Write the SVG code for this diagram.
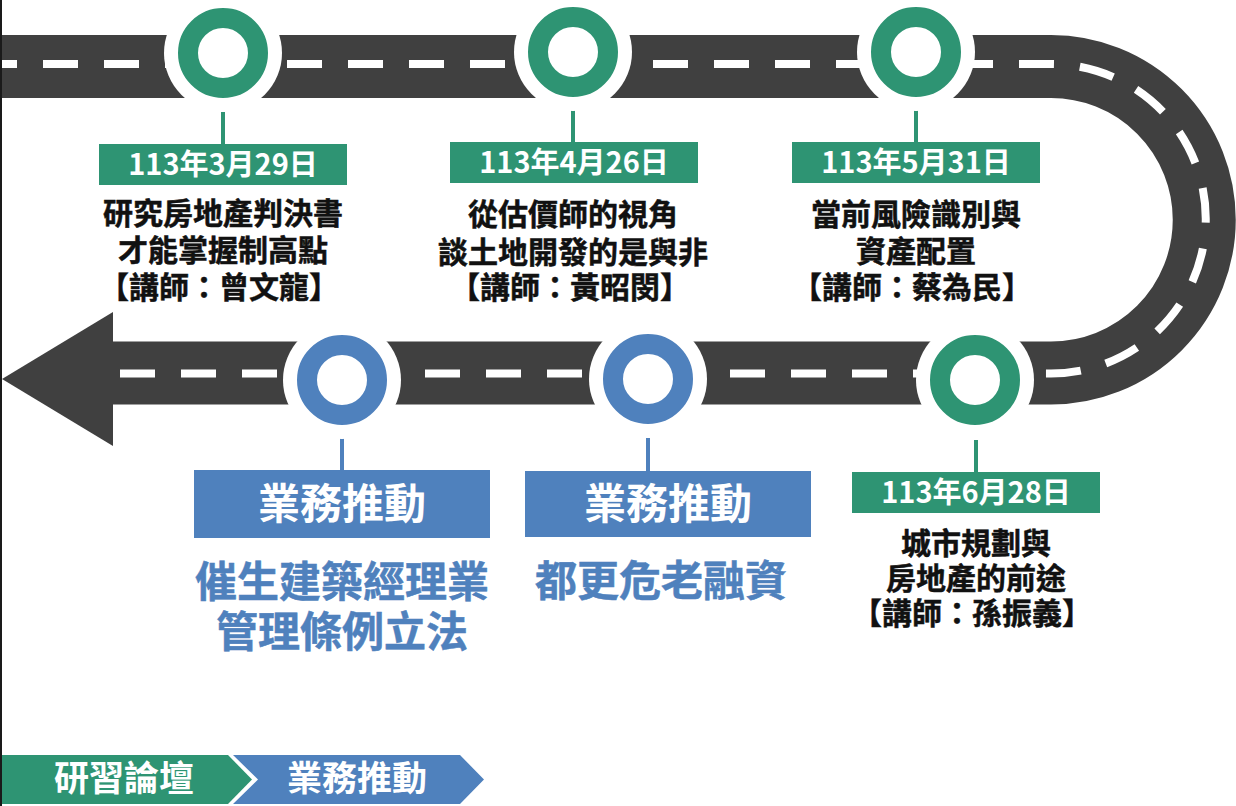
<svg xmlns="http://www.w3.org/2000/svg" width="1236" height="806" viewBox="0 0 1236 806">
<style>
.road{fill:none;stroke:#404040;stroke-width:63}
.dash{fill:none;stroke:#ffffff;stroke-width:8;stroke-dasharray:35 26}
.halo{fill:#ffffff}
.ringG{fill:none;stroke:#2E9473;stroke-width:20}
.ringB{fill:none;stroke:#4F81BD;stroke-width:20}
.lnG{stroke:#2E9473;stroke-width:4}
.lnB{stroke:#4F81BD;stroke-width:4}
.boxG{fill:#2E9473}
.boxB{fill:#4F81BD}
text{font-family:"Noto Sans CJK TC","Noto Sans CJK SC","Noto Sans",sans-serif;font-weight:bold;text-anchor:middle}
.date{font-size:29px;fill:#ffffff}
.body{font-size:30px;fill:#111111;stroke:#111111;stroke-width:0.5}
.tag{font-size:42px;fill:#ffffff}
.big{font-size:42px;fill:#4F81BD;stroke:#4F81BD;stroke-width:0.5}
.leg{font-size:35px;fill:#ffffff}
</style>
<rect x="0" y="0" width="1236" height="806" fill="#ffffff"/>
<g id="connectors">
<path class="road" d="M 0 66.5 H 1051 A 153.25 153.25 0 0 1 1051 373 H 110"/>
<polygon points="113,312 2,379 113,446" fill="#404040"/>
<path class="dash" d="M -18 64 H 1051 A 154.75 154.75 0 0 1 1051 373.5 H 1036"/>
<path class="dash" d="M 120 373.5 H 1034"/>
<line class="lnG" x1="223" y1="112" x2="223" y2="144"/>
<line class="lnG" x1="573" y1="110" x2="573" y2="142"/>
<line class="lnG" x1="916" y1="110" x2="916" y2="142"/>
<line class="lnG" x1="976" y1="440" x2="976" y2="472"/>
<line class="lnB" x1="342" y1="438" x2="342" y2="471"/>
<line class="lnB" x1="648" y1="438" x2="648" y2="471"/>
</g>
<g id="node1">
<circle class="halo" cx="223" cy="53" r="59"/>
<circle class="ringG" cx="223" cy="53" r="35"/>
<rect class="boxG" x="99" y="144" width="248" height="41"/>
<text class="date" x="223" y="175">113年3月29日</text>
<text class="body"><tspan x="223" y="224">研究房地產判決書</tspan><tspan x="223" y="261">才能掌握制高點</tspan><tspan x="219" y="298">【講師：曾文龍】</tspan></text>
</g>
<g id="node2">
<circle class="halo" cx="573" cy="52" r="59"/>
<circle class="ringG" cx="573" cy="52" r="35"/>
<rect class="boxG" x="450" y="142" width="248" height="41"/>
<text class="date" x="574" y="173">113年4月26日</text>
<text class="body"><tspan x="573" y="225">從估價師的視角</tspan><tspan x="573" y="263">談土地開發的是與非</tspan><tspan x="570" y="298">【講師：黃昭閔】</tspan></text>
</g>
<g id="node3">
<circle class="halo" cx="916" cy="52" r="59"/>
<circle class="ringG" cx="916" cy="52" r="35"/>
<rect class="boxG" x="792" y="142" width="248" height="41"/>
<text class="date" x="916" y="173">113年5月31日</text>
<text class="body"><tspan x="916" y="225">當前風險識別與</tspan><tspan x="916" y="262">資產配置</tspan><tspan x="912" y="298">【講師：蔡為民】</tspan></text>
</g>
<g id="node4">
<circle class="halo" cx="975" cy="380" r="59"/>
<circle class="ringG" cx="975" cy="380" r="35"/>
<rect class="boxG" x="852" y="472" width="248" height="41"/>
<text class="date" x="976" y="503">113年6月28日</text>
<text class="body"><tspan x="976" y="554">城市規劃與</tspan><tspan x="976" y="589">房地產的前途</tspan><tspan x="972" y="624">【講師：孫振義】</tspan></text>
</g>
<g id="node5">
<circle class="halo" cx="342" cy="380" r="59"/>
<circle class="ringB" cx="342" cy="380" r="35"/>
<rect class="boxB" x="194" y="470" width="296" height="68"/>
<text class="tag" x="342" y="519">業務推動</text>
<text class="big"><tspan x="342" y="597">催生建築經理業</tspan><tspan x="342" y="647">管理條例立法</tspan></text>
</g>
<g id="node6">
<circle class="halo" cx="648" cy="379" r="59"/>
<circle class="ringB" cx="648" cy="379" r="35"/>
<rect class="boxB" x="525" y="471" width="286" height="66"/>
<text class="tag" x="668" y="519">業務推動</text>
<text class="big" x="661" y="596">都更危老融資</text>
</g>
<g id="legend">
<polygon class="boxG" points="0,755 228,755 252,779.5 228,804 0,804"/>
<text class="leg" x="124" y="791">研習論壇</text>
<polygon class="boxB" points="233,755 460,755 484,779.5 460,804 233,804 258,779.5"/>
<text class="leg" x="357" y="791">業務推動</text>
</g>
<rect x="0" y="0" width="2" height="806" fill="#1a1a1a"/>
</svg>
